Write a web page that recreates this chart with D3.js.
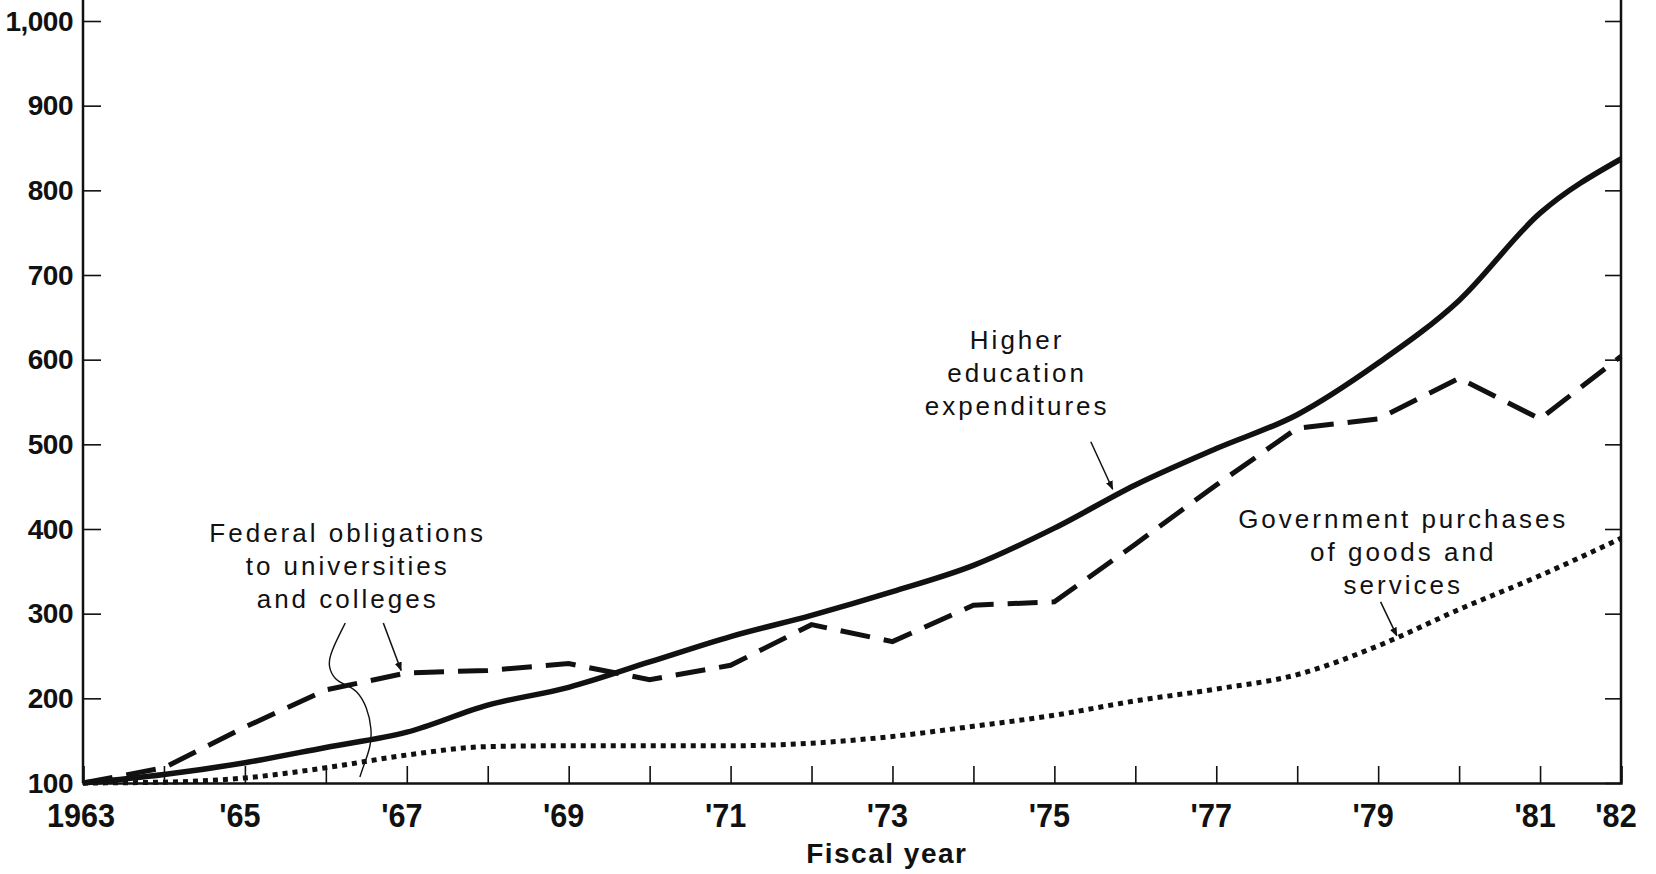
<!DOCTYPE html>
<html>
<head>
<meta charset="utf-8">
<script src="https://cdn.jsdelivr.net/npm/d3@7"></script>
<style>
  html, body { margin: 0; padding: 0; background: #fff; }
  svg { display: block; }
</style>
</head>
<body>
<svg id="chart" width="1656" height="874"></svg>
<script>
// ---- data ----
const years = [1963,1964,1965,1966,1967,1968,1969,1970,1971,1972,1973,1974,1975,1976,1977,1978,1979,1980,1981,1982];
const higherEducation = [100,110,124,142,160,192,213,243,273,298,326,357,401,452,495,535,596,670,773,837];
const federalObligations = [100,118,166,210,230,233,241,222,239,287,267,310,314,382,452,519,530,578,530,604];
const governmentPurchases = [100,101,106,118,133,143,144,144,144,147,155,167,180,197,211,228,262,305,345,389];
const yTickValues = [100,200,300,400,500,600,700,800,900,1000];
const yTickLabels = ["100","200","300","400","500","600","700","800","900","1,000"];
const xLabelYears = [1963,1965,1967,1969,1971,1973,1975,1977,1979,1981,1982];
const xLabelTexts = ["1963","'65","'67","'69","'71","'73","'75","'77","'79","'81","'82"];
const xAxisTitle = "Fiscal year";
const labelFederal = ["Federal obligations","to universities","and colleges"];
const labelHigher = ["Higher","education","expenditures"];
const labelGov = ["Government purchases","of goods and","services"];

(function () {
// ---- layout ----
const svg = d3.select("#chart");
const mLeft = 83, mRight = 1621, mTop = 21, mBottom = 783;
const x = d3.scaleLinear().domain([1963, 1982]).range([mLeft, mRight]);
const y = d3.scaleLinear().domain([100, 1000]).range([mBottom, mTop]);
const ink = "#111";

// axes frame lines
const g = svg.append("g");
g.append("line").attr("x1", mLeft).attr("x2", mLeft).attr("y1", 0).attr("y2", mBottom)
  .attr("stroke", ink).attr("stroke-width", 2.5);
g.append("line").attr("x1", mRight).attr("x2", mRight).attr("y1", 0).attr("y2", mBottom)
  .attr("stroke", ink).attr("stroke-width", 2.5);

// left axis
const yAxisL = d3.axisRight(y).tickValues(yTickValues).tickSize(18).tickFormat("");
const gl = svg.append("g").attr("transform", `translate(${mLeft},0)`).call(yAxisL);
gl.select(".domain").remove();
gl.selectAll(".tick line").attr("stroke", ink).attr("stroke-width", 1.6);

// right axis ticks
const yAxisR = d3.axisLeft(y).tickValues(yTickValues).tickSize(16).tickFormat("");
const gr = svg.append("g").attr("transform", `translate(${mRight},0)`).call(yAxisR);
gr.select(".domain").remove();
gr.selectAll(".tick line").attr("stroke", ink).attr("stroke-width", 1.6);

// y labels
svg.append("g").selectAll("text").data(yTickValues).join("text")
  .attr("x", mLeft - 10).attr("y", d => y(d))
  .attr("text-anchor", "end").attr("dominant-baseline", "central")
  .attr("font-family", "'Liberation Sans', Arial, sans-serif")
  .attr("font-weight", "bold").attr("font-size", 28).attr("fill", ink)
  .attr("letter-spacing", -0.5)
  .text((d, i) => yTickLabels[i]);

// bottom axis
const xAxis = d3.axisTop(x).tickValues(years).tickSize(17).tickFormat("");
const gb = svg.append("g").attr("transform", `translate(0,${mBottom})`).call(xAxis);
gb.select(".domain").attr("stroke", ink).attr("stroke-width", 2.5);
gb.selectAll(".tick line").attr("stroke", ink).attr("stroke-width", 1.6);

svg.append("g").selectAll("text").data(xLabelYears).join("text")
  .attr("transform", (d, i) => `translate(${x(d) - (i === 0 ? 2 : 5)},${mBottom + 32}) scale(0.9,1)`)
  .attr("text-anchor", "middle").attr("dominant-baseline", "central")
  .attr("font-family", "'Liberation Sans', Arial, sans-serif")
  .attr("font-weight", "bold").attr("font-size", 34).attr("fill", ink)
  .text((d, i) => xLabelTexts[i]);

svg.append("text").attr("x", x(1972.93)).attr("y", mBottom + 70)
  .attr("text-anchor", "middle").attr("dominant-baseline", "central")
  .attr("font-family", "'Liberation Sans', Arial, sans-serif")
  .attr("font-weight", "bold").attr("font-size", 28).attr("letter-spacing", 1.5).attr("fill", ink)
  .text(xAxisTitle);

// series
const line = d3.line().x((d, i) => x(years[i])).y(d => y(d)).curve(d3.curveMonotoneX);
svg.append("path").datum(governmentPurchases).attr("d", line)
  .attr("fill", "none").attr("stroke", ink).attr("stroke-width", 5)
  .attr("stroke-dasharray", "5,5");
svg.append("path").datum(federalObligations).attr("d", d3.line().x((d, i) => x(years[i])).y(d => y(d)))
  .attr("fill", "none").attr("stroke", ink).attr("stroke-width", 5)
  .attr("stroke-dasharray", "30,14");
svg.append("path").datum(higherEducation).attr("d", line)
  .attr("fill", "none").attr("stroke", ink).attr("stroke-width", 5.5)
  .attr("stroke-linejoin", "round");

// annotations
const defs = svg.append("defs");
defs.append("marker").attr("id", "ah").attr("viewBox", "0 0 10 10")
  .attr("refX", 9).attr("refY", 5).attr("markerWidth", 9).attr("markerHeight", 9)
  .attr("orient", "auto").attr("markerUnits", "userSpaceOnUse")
  .append("path").attr("d", "M0,1 L10,5 L0,9 Z").attr("fill", ink);

function label(lines, cx, cyVal) {
  const t = svg.append("g");
  lines.forEach((s, i) => {
    t.append("text").attr("x", x(cx)).attr("y", y(cyVal) + i * 33)
      .attr("text-anchor", "middle").attr("dominant-baseline", "central")
      .attr("font-family", "'Liberation Sans', Arial, sans-serif")
      .attr("font-size", 26).attr("letter-spacing", 3).attr("fill", ink)
      .text(s);
  });
}
label(labelFederal, 1966.27, 395);
label(labelHigher, 1974.54, 623);
label(labelGov, 1979.31, 412);

function arrow(a, b) {
  svg.append("line").attr("x1", x(a[0])).attr("y1", y(a[1]))
    .attr("x2", x(b[0])).attr("y2", y(b[1]))
    .attr("stroke", ink).attr("stroke-width", 1.5).attr("marker-end", "url(#ah)");
}
arrow([1975.45, 503], [1975.72, 447]);
arrow([1979.03, 314], [1979.23, 274]);
arrow([1966.71, 289], [1966.93, 233]);

const curvePts = [[1966.24, 289],[1966.05, 253],[1966.03, 237],[1966.11, 222],[1966.24, 216],[1966.38, 210],[1966.51, 190],[1966.57, 163],[1966.55, 142],[1966.48, 124],[1966.42, 107]];
svg.append("path").datum(curvePts)
  .attr("d", d3.line().x(d => x(d[0])).y(d => y(d[1])).curve(d3.curveBasis))
  .attr("fill", "none").attr("stroke", ink).attr("stroke-width", 1.4);
})();
</script>
</body>
</html>
